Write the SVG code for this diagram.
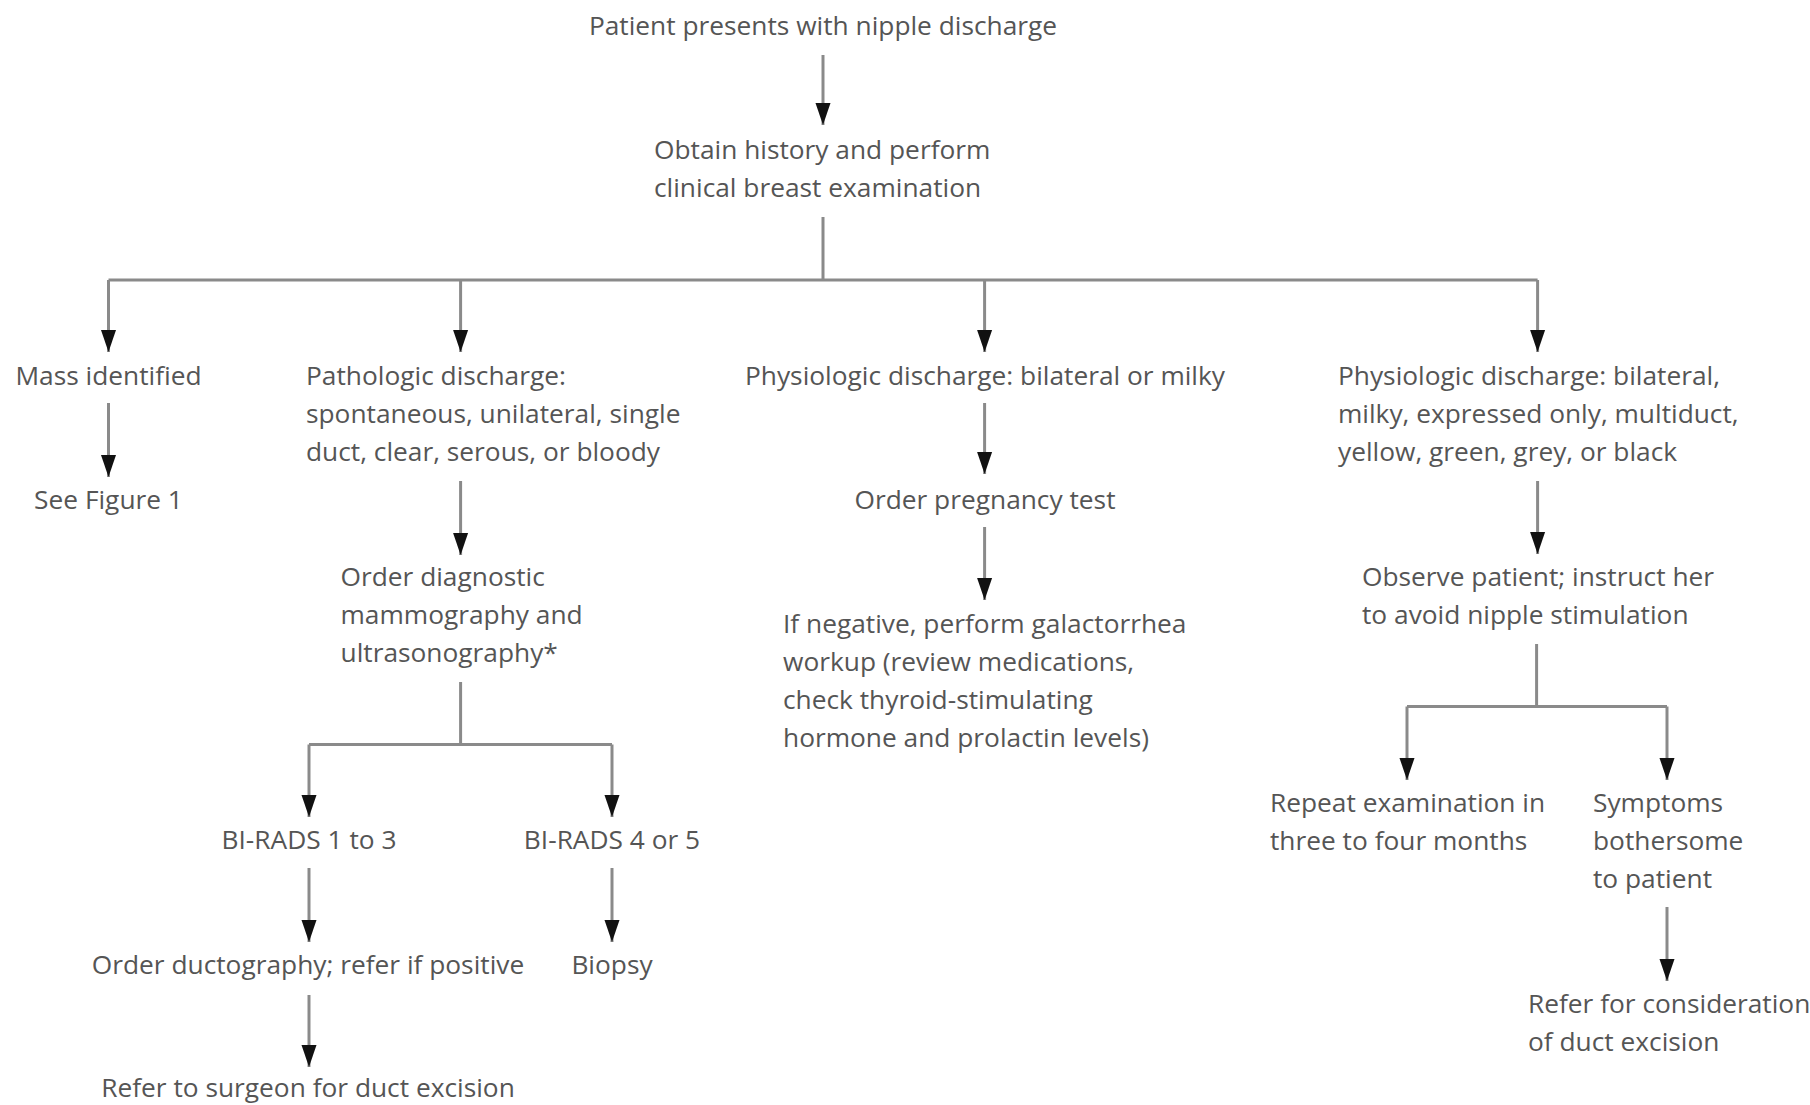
<svg xmlns="http://www.w3.org/2000/svg" width="1810" height="1105" viewBox="0 0 1810 1105">
<style>
  text { font-family: "Open Sans", "Liberation Sans", sans-serif; font-size: 26.3px; fill: #555555; }
  .c { text-anchor: middle; }
  .conn path { fill: none; stroke: #8a8a8a; stroke-width: 3; }
</style>
<defs>
  <marker id="ah" markerUnits="userSpaceOnUse" markerWidth="24" markerHeight="16" viewBox="0 -8 24 16" refX="22" refY="0" orient="auto">
    <path d="M0,-7.5 L22,0 L0,7.5 z" fill="#111111"/>
  </marker>
</defs>
<rect width="1810" height="1105" fill="#ffffff"/>

<g id="connectors" class="conn">
  <path d="M823,55 V125" marker-end="url(#ah)"/>
  <path d="M823,217 V280 M108.5,280 H1537.6"/>
  <path d="M108.5,280 V352" marker-end="url(#ah)"/>
  <path d="M460.6,280 V352" marker-end="url(#ah)"/>
  <path d="M984.6,280 V352" marker-end="url(#ah)"/>
  <path d="M1537.6,280 V352" marker-end="url(#ah)"/>
  <path d="M108.5,403 V477" marker-end="url(#ah)"/>
  <path d="M460.6,481 V555" marker-end="url(#ah)"/>
  <path d="M460.6,682 V744.5 M309,744.5 H612"/>
  <path d="M309,744.5 V817" marker-end="url(#ah)"/>
  <path d="M612,744.5 V817" marker-end="url(#ah)"/>
  <path d="M309,868 V942" marker-end="url(#ah)"/>
  <path d="M612,868 V942" marker-end="url(#ah)"/>
  <path d="M309,995 V1067" marker-end="url(#ah)"/>
  <path d="M984.6,403 V474" marker-end="url(#ah)"/>
  <path d="M984.6,527 V600" marker-end="url(#ah)"/>
  <path d="M1537.6,481 V554" marker-end="url(#ah)"/>
  <path d="M1536.6,644 V706.5 M1407,706.5 H1667"/>
  <path d="M1407,706.5 V780" marker-end="url(#ah)"/>
  <path d="M1667,706.5 V780" marker-end="url(#ah)"/>
  <path d="M1667,907 V981" marker-end="url(#ah)"/>
</g>

<g id="n-start"><text class="c" x="823" y="35">Patient presents with nipple discharge</text></g>
<g id="n-history">
  <text x="654" y="159">Obtain history and perform</text>
  <text x="654" y="197">clinical breast examination</text>
</g>
<g id="n-mass"><text class="c" x="108.5" y="385">Mass identified</text></g>
<g id="n-fig1"><text class="c" x="108.5" y="509">See Figure 1</text></g>
<g id="n-pathologic">
  <text x="306" y="385">Pathologic discharge:</text>
  <text x="306" y="423">spontaneous, unilateral, single</text>
  <text x="306" y="461">duct, clear, serous, or bloody</text>
</g>
<g id="n-imaging">
  <text x="340.5" y="586">Order diagnostic</text>
  <text x="340.5" y="624">mammography and</text>
  <text x="340.5" y="662">ultrasonography*</text>
</g>
<g id="n-birads13"><text class="c" x="309" y="849">BI-RADS 1 to 3</text></g>
<g id="n-birads45"><text class="c" x="612" y="849">BI-RADS 4 or 5</text></g>
<g id="n-ductography"><text class="c" x="308" y="974">Order ductography; refer if positive</text></g>
<g id="n-biopsy"><text class="c" x="612" y="974">Biopsy</text></g>
<g id="n-surgeon"><text class="c" x="308" y="1097">Refer to surgeon for duct excision</text></g>
<g id="n-physio-milky"><text class="c" x="985" y="385">Physiologic discharge: bilateral or milky</text></g>
<g id="n-pregnancy"><text class="c" x="985" y="509">Order pregnancy test</text></g>
<g id="n-galactorrhea">
  <text x="783" y="633">If negative, perform galactorrhea</text>
  <text x="783" y="671">workup (review medications,</text>
  <text x="783" y="709">check thyroid-stimulating</text>
  <text x="783" y="747">hormone and prolactin levels)</text>
</g>
<g id="n-physio-expressed">
  <text x="1338" y="385">Physiologic discharge: bilateral,</text>
  <text x="1338" y="423">milky, expressed only, multiduct,</text>
  <text x="1338" y="461">yellow, green, grey, or black</text>
</g>
<g id="n-observe">
  <text x="1362" y="586">Observe patient; instruct her</text>
  <text x="1362" y="624">to avoid nipple stimulation</text>
</g>
<g id="n-repeat">
  <text x="1270" y="812">Repeat examination in</text>
  <text x="1270" y="850">three to four months</text>
</g>
<g id="n-symptoms">
  <text x="1593" y="812">Symptoms</text>
  <text x="1593" y="850">bothersome</text>
  <text x="1593" y="888">to patient</text>
</g>
<g id="n-refer-excision">
  <text x="1528" y="1013">Refer for consideration</text>
  <text x="1528" y="1051">of duct excision</text>
</g>
</svg>
